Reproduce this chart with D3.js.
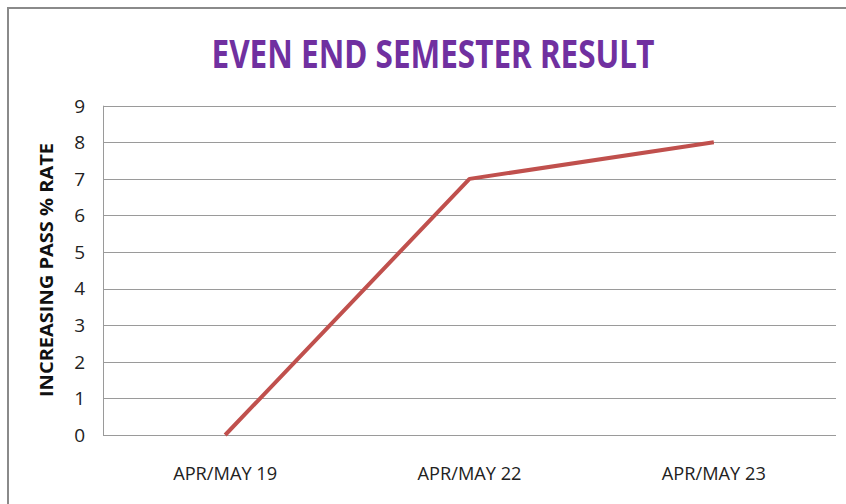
<!DOCTYPE html>
<html>
<head>
<meta charset="utf-8">
<script src="https://cdn.jsdelivr.net/npm/d3@7"></script>
<style>
  body { margin: 0; background: #ffffff; }
</style>
</head>
<body>
<div id="chart"></div>
<script>
// chart data
var categories = ["APR/MAY 19", "APR/MAY 22", "APR/MAY 23"];
var passRate = [0, 7, 8];
var yTicks = [0, 1, 2, 3, 4, 5, 6, 7, 8, 9];

var width = 846, height = 504;
var margin = { top: 105.7, right: 10, bottom: 69, left: 103 };

var svg = d3.select("#chart")
    .append("svg")
    .attr("width", width)
    .attr("height", height);

// outer frame (only top and left edges are visible)
svg.append("path")
    .attr("d", "M8," + height + " L8,8 L" + width + ",8")
    .attr("fill", "none")
    .attr("stroke", "#8a8a8a")
    .attr("stroke-width", 2);

var x = d3.scaleBand()
    .domain(categories)
    .range([margin.left, width - margin.right]);

var y = d3.scaleLinear()
    .domain([0, 9])
    .range([height - margin.bottom, margin.top]);

// gridlines
svg.append("g")
    .selectAll("line")
    .data(yTicks)
    .enter()
    .append("line")
    .attr("x1", margin.left)
    .attr("x2", width - margin.right)
    .attr("y1", function (d) { return Math.round(y(d)) + 0.5; })
    .attr("y2", function (d) { return Math.round(y(d)) + 0.5; })
    .attr("stroke", "#9a9a9a")
    .attr("stroke-width", 1);

// y axis line
svg.append("line")
    .attr("x1", margin.left + 0.5)
    .attr("x2", margin.left + 0.5)
    .attr("y1", y(9))
    .attr("y2", y(0))
    .attr("stroke", "#9a9a9a");

// y tick labels
svg.append("g")
    .selectAll("text")
    .data(yTicks)
    .enter()
    .append("text")
    .attr("x", 85)
    .attr("y", function (d) { return y(d); })
    .attr("dy", "0.36em")
    .attr("text-anchor", "end")
    .attr("font-family", "'Open Sans', sans-serif")
    .attr("font-size", 19)
    .attr("fill", "#222")
    .text(function (d) { return d; });

// x labels
svg.append("g")
    .selectAll("text")
    .data(categories)
    .enter()
    .append("text")
    .attr("x", function (d) { return x(d) + x.bandwidth() / 2; })
    .attr("y", 480)
    .attr("text-anchor", "middle")
    .attr("font-family", "'Open Sans', sans-serif")
    .attr("font-size", 19)
    .attr("textLength", 104)
    .attr("lengthAdjust", "spacingAndGlyphs")
    .attr("fill", "#222")
    .text(function (d) { return d; });

// line
var line = d3.line()
    .x(function (d, i) { return x(categories[i]) + x.bandwidth() / 2; })
    .y(function (d) { return y(d); });

svg.append("path")
    .datum(passRate)
    .attr("d", line)
    .attr("fill", "none")
    .attr("stroke", "#C0504D")
    .attr("stroke-width", 4)
    .attr("stroke-linejoin", "round");

// title
svg.append("text")
    .attr("x", 433)
    .attr("y", 68)
    .attr("text-anchor", "middle")
    .attr("font-family", "'Noto Sans', sans-serif")
    .attr("font-weight", "bold")
    .attr("font-size", 40)
    .attr("textLength", 443)
    .attr("lengthAdjust", "spacingAndGlyphs")
    .attr("fill", "#7030A0")
    .text("EVEN END SEMESTER RESULT");

// y axis title
svg.append("text")
    .attr("transform", "translate(53,270) rotate(-90)")
    .attr("text-anchor", "middle")
    .attr("font-family", "'Open Sans', sans-serif")
    .attr("font-weight", "bold")
    .attr("font-size", 17)
    .attr("textLength", 254)
    .attr("lengthAdjust", "spacingAndGlyphs")
    .attr("fill", "#111")
    .text("INCREASING PASS % RATE");
</script>
</body>
</html>
